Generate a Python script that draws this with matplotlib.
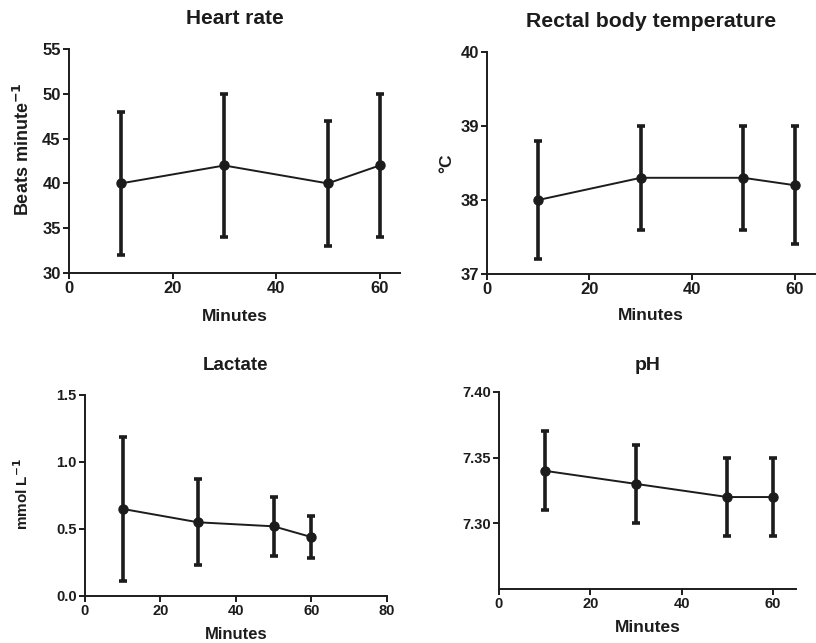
import matplotlib
matplotlib.use("Agg")
import matplotlib.pyplot as plt

plt.rcParams['font.family'] = ['Liberation Sans', 'DejaVu Sans']
plt.rcParams['font.weight'] = 'bold'

minutes = [10, 30, 50, 60]

hr_mean = [40, 42, 40, 42]
hr_low = [32, 34, 33, 34]
hr_high = [48, 50, 47, 50]

temp_mean = [38.0, 38.3, 38.3, 38.2]
temp_low = [37.2, 37.6, 37.6, 37.4]
temp_high = [38.8, 39.0, 39.0, 39.0]

lac_mean = [0.65, 0.55, 0.52, 0.44]
lac_low = [0.11, 0.23, 0.30, 0.28]
lac_high = [1.19, 0.87, 0.74, 0.60]

ph_mean = [7.34, 7.33, 7.32, 7.32]
ph_low = [7.31, 7.30, 7.29, 7.29]
ph_high = [7.37, 7.36, 7.35, 7.35]

col = '#1c1c1c'

fig = plt.figure(figsize=(8.16, 6.43), dpi=100)

def panel(rect, mean, low, high, title, ylabel, xlim, xticks, ylim, yticks, yfmt,
          tick_fs, title_fs, label_fs, title_pad, xlabelpad, ylabel_fs=None, ylabel_pos=None):
    ax = fig.add_axes(rect)
    yerr = [[m - l for m, l in zip(mean, low)], [h - m for m, h in zip(mean, high)]]
    ax.errorbar(minutes, mean, yerr=yerr, color=col, lw=1.4, marker='o', ms=6.5,
                elinewidth=2.6, capsize=3, capthick=2.6, clip_on=False, zorder=3)
    ax.set_xlim(*xlim)
    ax.set_ylim(*ylim)
    ax.set_xticks(xticks)
    ax.set_yticks(yticks)
    ax.set_yticklabels([yfmt.format(v) for v in yticks])
    for s in ['top', 'right']:
        ax.spines[s].set_visible(False)
    for s in ['left', 'bottom']:
        ax.spines[s].set_linewidth(1.4)
        ax.spines[s].set_color(col)
    ax.tick_params(width=1.4, length=4, color=col, labelsize=tick_fs, labelcolor=col, pad=2)
    for lab in ax.get_xticklabels() + ax.get_yticklabels():
        lab.set_fontweight('bold')
    ax.set_title(title, fontsize=title_fs, fontweight='bold', color=col, pad=title_pad)
    ax.set_xlabel('Minutes', fontsize=label_fs, fontweight='bold', color=col, labelpad=xlabelpad)
    if ylabel:
        ax.set_ylabel(ylabel, fontsize=ylabel_fs or label_fs, fontweight='bold', color=col)
        if ylabel_pos:
            ax.yaxis.set_label_coords(*ylabel_pos)
    return ax

panel([0.0846, 0.5754, 0.406, 0.3484], hr_mean, hr_low, hr_high, 'Heart rate',
      r'Beats minute$^{\mathbf{-1}}$', (0, 64), [0, 20, 40, 60], (30, 55),
      [30, 35, 40, 45, 50, 55], '{:.0f}', 12, 15, 12.5, 18, 9,
      ylabel_fs=13, ylabel_pos=(-0.110, 0.553))

panel([0.5968, 0.5739, 0.402, 0.3452], temp_mean, temp_low, temp_high,
      'Rectal body temperature', '°C', (0, 64), [0, 20, 40, 60], (37, 40),
      [37, 38, 39, 40], '{:.0f}', 12, 15.3, 12.5, 18, 8)

panel([0.104, 0.0731, 0.370, 0.3126], lac_mean, lac_low, lac_high, 'Lactate',
      r'mmol L$^{\mathbf{-1}}$', (0, 80), [0, 20, 40, 60, 80], (0, 1.5),
      [0.0, 0.5, 1.0, 1.5], '{:.1f}', 10.5, 13.5, 12, 18, 6,
      ylabel_fs=11, ylabel_pos=(-0.180, 0.507))

panel([0.6115, 0.0840, 0.364, 0.3064], ph_mean, ph_low, ph_high, 'pH', None,
      (0, 65), [0, 20, 40, 60], (7.25, 7.40), [7.30, 7.35, 7.40], '{:.2f}',
      10.5, 14, 12.5, 16, 6)

fig.savefig('out.png', dpi=100, facecolor='white')
